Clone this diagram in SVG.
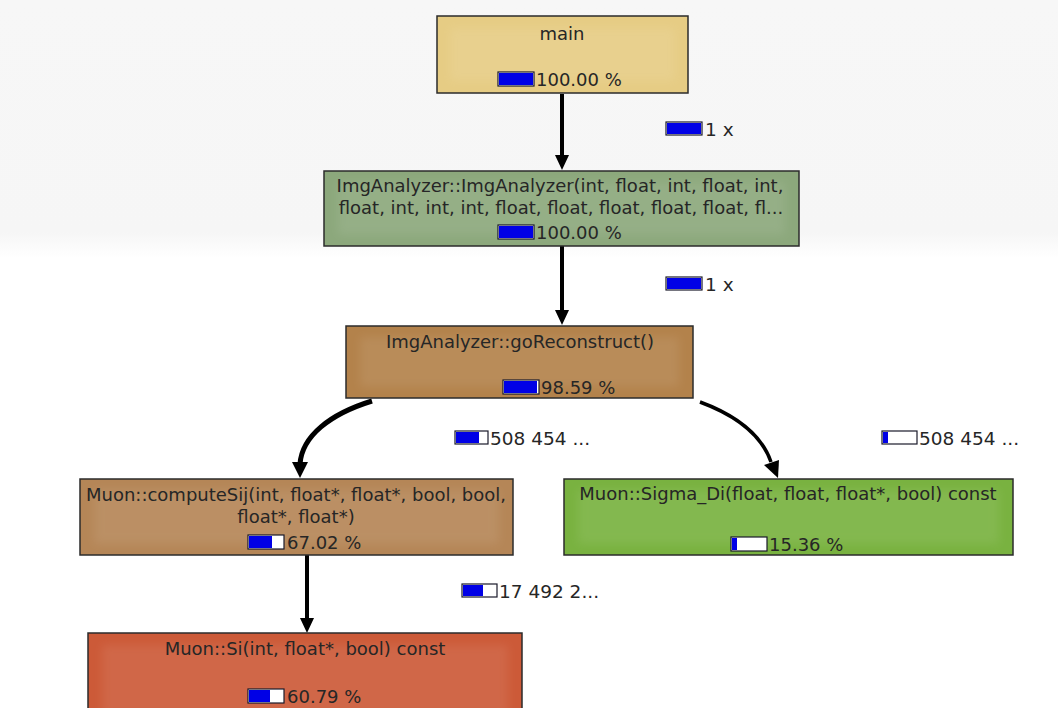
<svg xmlns="http://www.w3.org/2000/svg" width="1058" height="708" viewBox="0 0 1058 708">
<defs>
<linearGradient id="bg" x1="0" y1="0" x2="0" y2="1">
<stop offset="0" stop-color="#f7f7f7"/>
<stop offset="0.9" stop-color="#f6f6f6"/>
<stop offset="1" stop-color="#ffffff"/>
</linearGradient>
<filter id="soft" x="-10%" y="-30%" width="120%" height="160%"><feGaussianBlur stdDeviation="5"/></filter>
</defs>
<style>
.t{font-family:"DejaVu Sans","Liberation Sans",sans-serif;font-size:18px;fill:#262626}
.e{font-size:18.5px}
.c{text-anchor:middle}
.box{stroke:#2b2b2b;stroke-width:1.5}
.hl{fill:#ffffff;opacity:0.08;filter:url(#soft)}
.barbg{fill:#ffffff;stroke:#1a1a2a;stroke-width:1.2}
.bar{fill:#0000e6}
.edge{fill:none;stroke:#000;stroke-linecap:butt}
.head{fill:#000}
</style>
<rect x="0" y="0" width="1058" height="708" fill="#ffffff"/>
<rect x="0" y="0" width="1058" height="258" fill="url(#bg)"/>

<g id="connectors">
<line class="edge" x1="562" y1="94" x2="562" y2="157" stroke-width="4"/>
<polygon class="head" points="555,155 569,155 562,170"/>
<line class="edge" x1="562" y1="246" x2="562" y2="312" stroke-width="4"/>
<polygon class="head" points="555,310 569,310 562,325"/>
<path class="edge" d="M 372 401 C 330 414 302 436 300 464" stroke-width="5"/>
<polygon class="head" points="292,462 308,462 300,478"/>
<path class="edge" d="M 700 402 C 738 416 762 436 771 462" stroke-width="3.5"/>
<polygon class="head" points="764,465 779,460 778,478"/>
<line class="edge" x1="307" y1="555" x2="307" y2="620" stroke-width="4"/>
<polygon class="head" points="300,618 314,618 307,633"/>
</g>

<g id="edge-labels">
<rect class="barbg" x="666" y="122" width="36" height="13"/><rect class="bar" x="667" y="123" width="34" height="11"/>
<text class="t e" x="705" y="136">1 x</text>
<rect class="barbg" x="666" y="277" width="36" height="13"/><rect class="bar" x="667" y="278" width="34" height="11"/>
<text class="t e" x="705" y="291">1 x</text>
<rect class="barbg" x="455" y="431" width="33" height="13"/><rect class="bar" x="456" y="432" width="23" height="11"/>
<text class="t e" x="490" y="445">508 454 ...</text>
<rect class="barbg" x="882" y="431" width="35" height="13"/><rect class="bar" x="883" y="432" width="5" height="11"/>
<text class="t e" x="919" y="445">508 454 ...</text>
<rect class="barbg" x="462" y="584" width="35" height="13"/><rect class="bar" x="463" y="585" width="20" height="11"/>
<text class="t e" x="499" y="598">17 492 2...</text>
</g>

<g id="node-main">
<rect class="box" x="437" y="16" width="251" height="77" fill="#e6cc84" stroke="#d03838"/>
<rect class="hl" x="450" y="28" width="225" height="53"/>
<text class="t c" x="562" y="40">main</text>
<rect class="barbg" x="498" y="72" width="36" height="14"/><rect class="bar" x="499" y="73" width="34" height="12"/>
<text class="t" x="536" y="86">100.00 %</text>
</g>

<g id="node-imganalyzer">
<rect class="box" x="324" y="171" width="475" height="75" fill="#8ca87c"/>
<rect class="hl" x="338" y="182" width="447" height="53"/>
<text class="t c" x="560" y="192">ImgAnalyzer::ImgAnalyzer(int, float, int, float, int,</text>
<text class="t c" x="561" y="214">float, int, int, int, float, float, float, float, float, fl...</text>
<rect class="barbg" x="498" y="225" width="36" height="14"/><rect class="bar" x="499" y="226" width="34" height="12"/>
<text class="t" x="536" y="239">100.00 %</text>
</g>

<g id="node-goreconstruct">
<rect class="box" x="346" y="326" width="347" height="72" fill="#b3824b"/>
<rect class="hl" x="360" y="337" width="319" height="50"/>
<text class="t c" x="520" y="348">ImgAnalyzer::goReconstruct()</text>
<rect class="barbg" x="503" y="380" width="36" height="14"/><rect class="bar" x="504" y="381" width="33" height="12"/>
<text class="t" x="541" y="394">98.59 %</text>
</g>

<g id="node-computesij">
<rect class="box" x="80" y="479" width="433" height="76" fill="#b58657"/>
<rect class="hl" x="94" y="490" width="405" height="54"/>
<text class="t c" x="296" y="501">Muon::computeSij(int, float*, float*, bool, bool,</text>
<text class="t c" x="296" y="523">float*, float*)</text>
<rect class="barbg" x="248" y="535" width="36" height="14"/><rect class="bar" x="249" y="536" width="23" height="12"/>
<text class="t" x="287" y="549">67.02 %</text>
</g>

<g id="node-sigmadi">
<rect class="box" x="564" y="479" width="449" height="76" fill="#79b240"/>
<rect class="hl" x="578" y="490" width="421" height="54"/>
<text class="t c" x="788" y="500">Muon::Sigma_Di(float, float, float*, bool) const</text>
<rect class="barbg" x="731" y="537" width="36" height="14"/><rect class="bar" x="732" y="538" width="5" height="12"/>
<text class="t" x="769" y="551">15.36 %</text>
</g>

<g id="node-si">
<rect class="box" x="88" y="633" width="434" height="90" fill="#cc5a38"/>
<rect class="hl" x="102" y="645" width="406" height="70"/>
<text class="t c" x="305" y="655">Muon::Si(int, float*, bool) const</text>
<rect class="barbg" x="248" y="689" width="36" height="14"/><rect class="bar" x="249" y="690" width="21" height="12"/>
<text class="t" x="287" y="703">60.79 %</text>
</g>
</svg>
